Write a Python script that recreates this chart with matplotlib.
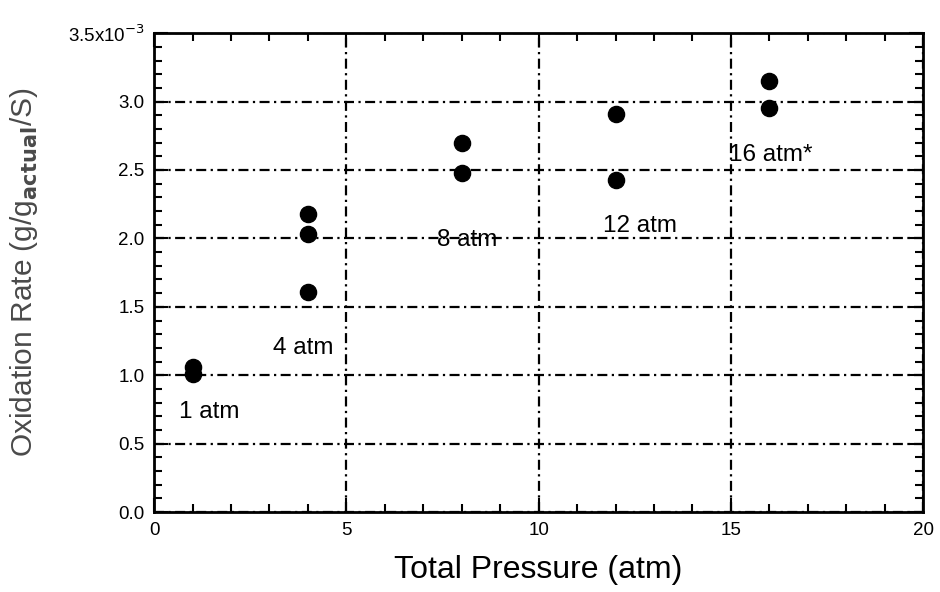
import numpy as np
import matplotlib.pyplot as plt
from matplotlib.ticker import MultipleLocator, FuncFormatter

plt.rcParams['font.family'] = ['Liberation Sans', 'DejaVu Sans']

# oxidation rate data, values in units of 1e-3 g/g_actual/s
pressure = [1, 1, 4, 4, 4, 8, 8, 12, 12, 16, 16]
rate = [1.06, 1.01, 2.175, 2.03, 1.61, 2.70, 2.48, 2.91, 2.43, 3.15, 2.955]

labels = ["1 atm", "4 atm", "8 atm", "12 atm", "16 atm*"]
label_x = [1.43, 3.88, 8.14, 12.64, 16.05]
label_y = [0.73, 1.20, 1.99, 2.09, 2.61]

fig = plt.figure(figsize=(9.4, 5.92), dpi=100)
ax = fig.add_axes([0.164, 0.135, 0.818, 0.809])

ax.scatter(pressure, rate, s=135, color="black", zorder=3)
for t, x, y in zip(labels, label_x, label_y):
    ax.text(x, y, t, ha="center", va="center", fontsize=17.5)

ax.set_xlim(0, 20)
ax.set_ylim(0, 3.5)
ax.xaxis.set_major_locator(MultipleLocator(5))
ax.xaxis.set_minor_locator(MultipleLocator(1))
ax.yaxis.set_major_locator(MultipleLocator(0.5))
ax.yaxis.set_minor_locator(MultipleLocator(0.1))

def fmt(v, pos):
    if abs(v - 3.5) < 1e-6:
        return r"3.5x10$^{-3}$"
    return "%.1f" % v
ax.yaxis.set_major_formatter(FuncFormatter(fmt))

ax.tick_params(which="both", direction="in", top=True, right=True, labelsize=13.5, width=1.5)
ax.tick_params(which="major", length=10, pad=7)
ax.tick_params(which="minor", length=6)
for s in ax.spines.values():
    s.set_linewidth(2)

ax.grid(True, which="major", color="black", linestyle=(0, (4.5, 2, 1, 2)), linewidth=1.6)

ax.set_xlabel("Total Pressure (atm)", fontsize=23, labelpad=12)
ax.set_ylabel(r"Oxidation Rate (g/g$_{\mathbf{actual}}$/S)", fontsize=21.5, color="#4a4a4a", labelpad=20)

plt.savefig("out.png", dpi=100)
